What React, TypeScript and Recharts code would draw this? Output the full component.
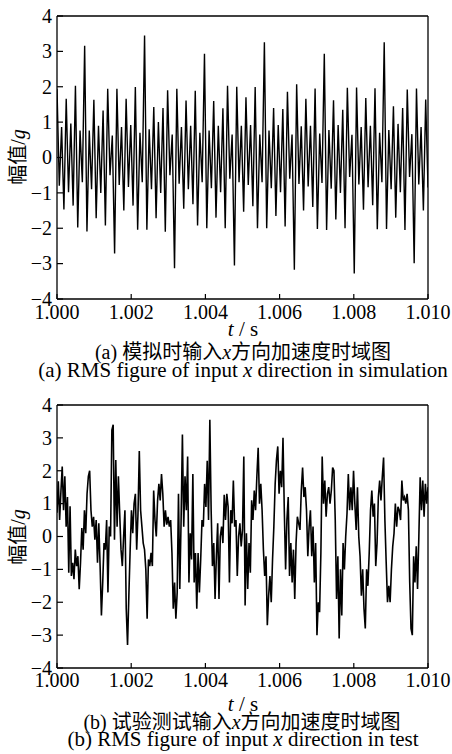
import { LineChart, Line, XAxis, YAxis, ReferenceLine } from "recharts";

const timeTicks = [1.0, 1.002, 1.004, 1.006, 1.008, 1.01];
const ampTicks = [-4, -3, -2, -1, 0, 1, 2, 3, 4];

// (a) simulation: alternating peaks / troughs, in g
const simAmp = [
  1.94, -0.8, 0.86, -1.47, 1.66, -0.98, 0.96, -1.36, 2.03, -1.98, 0.76, -0.7,
  3.16, -2.09, 0.76, -0.9, 1.63, -1.72, 0.9, -1.0, 1.33, -1.92, 1.94, -0.5, 0.62,
  -2.71, 1.94, -0.78, 0.86, -1.5, 1.66, -0.83, 0.92, -1.36, 1.99, -2.04, 0.7, -0.7,
  3.45, -2.04, 0.8, -0.9, 1.43, -1.72, 1.0, -1.0, 1.4, -2.1, 1.9, -0.5, 0.65,
  -3.13, 1.94, -0.74, 0.86, -1.45, 1.61, -0.9, 0.9, -1.32, 1.89, -1.92, 0.7, -0.7,
  2.93, -2.0, 0.76, -0.87, 1.6, -1.7, 0.9, -0.98, 1.39, -2.0, 2.03, -0.6, 0.65,
  -3.05, 2.0, -0.7, 0.9, -1.53, 1.7, -0.78, 0.92, -1.38, 1.99, -2.0, 0.65, -0.7,
  3.26, -2.0, 0.76, -0.87, 1.4, -1.65, 0.92, -0.98, 1.37, -1.95, 1.86, -0.6, 0.65,
  -3.17, 2.07, -0.75, 0.88, -1.5, 1.66, -0.82, 0.9, -1.4, 1.95, -2.02, 0.68, -0.72,
  2.93, -2.05, 0.78, -0.88, 1.62, -1.75, 0.92, -1.0, 1.35, -2.0, 1.97, -0.55, 0.64,
  -3.28, 1.98, -0.76, 0.86, -1.48, 1.68, -0.84, 0.9, -1.35, 1.96, -2.03, 0.7, -0.7,
  3.26, -2.02, 0.78, -0.9, 1.45, -1.7, 0.95, -0.98, 1.4, -2.05, 1.92, -0.55, 0.66,
  -2.99, 1.95, -0.76, 0.86, -1.5, 1.64, -0.85,
];

// (b) test measurement, in g
const testAmp = [
  0.72, 1.68, 0.5, 1.37, 2.13, 0.8, 1.83, 0.3, 1.2, -1.1,
  0.92, -1.2, -0.8, -1.3, -0.4, -0.9, -0.6, -1.6, -0.8, 0.26,
  -0.4, 0.8, 0.1, 1.3, 1.83, 2.0, 0.8, 0.3, 0.6, -0.1,
  0.5, -0.8, 0.4, -0.9, -2.4, -1.4, -0.2, -0.4, 0.5, -1.7,
  0.3, 0, 3.24, 3.4, -0.1, 2.33, 0.3, 1.83, 0.7, -0.4,
  -0.9, 0, 0.8, -2.2, -3.3, -1.8, -0.4, 0.8, 0.1, 1.0,
  1.3, -0.4, 0.7, 2.6, 0.8, 0.3, -0.2, -0.4, -1.0, -2.5,
  -0.7, -0.9, -0.5, -0.9, 1.4, 0.5, 0, 1.1, 1.6, 1.1,
  1.9, 1.3, 0.3, 0.8, 0.36, 0.6, 0.3, 0.5, -0.5, -2.2,
  -1.4, -2.5,
  -1.7, 1.3, -1.6, 0.5, 3.1, 0.3, 1.83, 0.8, 2.43, -1.4,
  0.1, -0.7, 1.9, -1.4, -0.5, -2.2, -0.5, -1.7, -0.7, 0.5,
  0.3, 1.6, 0.9, 2.3, 0.5, 3.55, 0.8, -0.9, -0.2, -1.9,
  -0.6, 0.4, -1.9, 0, 0.3, -0.2, 1.27, 0.5, 1.3, 0.9,
  -1.4, 0.8, 0.4, 1.7, 0.3, 0.5, -1.2, 0, 0.4, -0.3,
  0.2, 2.43, -2.1, 0.1, -1.6, -0.2, -1.1, 1.1, 0.5, 1.4,
  0.8, 1.83, 2.7, 1.0, 1.6, 0.8, -0.4, -1.2, -0.6, -2.7,
  -1.8, -1.2, -2.0, -0.7, 0.3, 1.6, 2.33, 2.74, 1.3, 2.0,
  1.5, 3.0, 0.8, -1.0, 0.5, 1.2, -1.2, -0.2, -1.4, -0.4,
  -1.9, -0.2, 0.6, 0.4,
  0.2, 1.4, 2.1, 1.2, 1.5, 0.8, -0.6, 0.3, 0.8, -0.6,
  0.3, -1.4, -0.2, -3.0, -2.0, -2.3, -0.5, 2.43, 1.0, 1.7,
  0.6, 1.3, 1.5, 1.0, 1.4, 2.1, 2.0, 0.5, -1.9, -0.6,
  -3.1, -1.0, -2.4, -0.2, -1.0, 0, 0.7, 1.9, 0.8, 1.5,
  0.8, 2.0, 1.0, 0.2, 1.5, 0, -0.6, -1.8, -1.0, -2.2,
  -2.8, -1.0, -1.5, -0.5, 0.8, 1.4, 0.6, 1.0, -0.9, -0.2,
  1.2, 1.7, 1.1, 1.8, 2.4, 0.5, -0.8, -2.0, -1.5, -2.0,
  -1.0, -0.3, 0.1, 1.0, 0.3, 0.9, 0.8, 0.5, 1.7, 1.1,
  1.2, 1.0, 1.3, 0.8, -1.4, -2.8, -3.0, -0.6, -1.4, -0.3,
  -1.6, 0, 1.8, 0.8, 1.7, 0.6, 1.6, 1.0, 1.5,
];

const T0 = 1.0;
const SPAN = 0.01;

// samples are evenly spaced over the 10 ms window
const toRows = (amp: number[]) =>
  amp.map((g, i) => ({ t: T0 + (SPAN * i) / (amp.length - 1), g }));

const serif = '"Liberation Serif", "Times New Roman", serif';
const cjk = '"Liberation Serif", "Noto Sans CJK SC", sans-serif';

const TimeTick = (props: any) => {
  const { x, y, payload } = props;
  return (
    <text x={x} y={y} dy="0.71em" textAnchor="middle" fontFamily={serif} fontSize={20} fill="#000">
      {Number(payload.value).toFixed(3)}
    </text>
  );
};

const AmpTick = (props: any) => {
  const { x, y, payload } = props;
  return (
    <text x={x} y={y} dy="0.34em" textAnchor="end" fontFamily={serif} fontSize={20} fill="#000">
      {String(payload.value).replace("-", "\u2212")}
    </text>
  );
};

type PanelProps = {
  rows: { t: number; g: number }[];
  top: number;
  height: number;
  labelGap: number;
  width: number;
};

// plot box: x 57..428, 16px below the panel top, bottom 12px + axis above chart bottom
const Panel = ({ rows, top, height, labelGap, width }: PanelProps) => (
  <div style={{ position: "absolute", left: 0, top }}>
    <LineChart
      width={452}
      height={height}
      data={rows}
      margin={{ top: 16, right: 24, bottom: 12, left: 0 }}
    >
      <XAxis
        dataKey="t"
        type="number"
        domain={[1.0, 1.01]}
        allowDataOverflow
        ticks={timeTicks}
        interval={0}
        height={21}
        tickSize={-5}
        tickMargin={labelGap}
        axisLine={{ stroke: "#000", strokeWidth: 1.3 }}
        tickLine={{ stroke: "#000", strokeWidth: 1.2 }}
        tick={<TimeTick />}
      />
      <YAxis
        type="number"
        domain={[-4, 4]}
        allowDataOverflow
        ticks={ampTicks}
        interval={0}
        width={57}
        tickSize={-6}
        tickMargin={11}
        axisLine={{ stroke: "#000", strokeWidth: 1.3 }}
        tickLine={{ stroke: "#000", strokeWidth: 1.2 }}
        tick={<AmpTick />}
      />
      <ReferenceLine y={4} stroke="#000" strokeWidth={1.3} />
      <ReferenceLine x={1.01} stroke="#000" strokeWidth={1.3} />
      <Line
        type="linear"
        dataKey="g"
        stroke="#000"
        strokeWidth={width}
        dot={false}
        isAnimationActive={false}
      />
    </LineChart>
  </div>
);

const Captions = () => (
  <svg
    width={452}
    height={754}
    style={{ position: "absolute", left: 0, top: 0, pointerEvents: "none" }}
  >
    <g fontFamily={serif} fontSize={21} fill="#000" textAnchor="middle">
      <text x={243} y={336}>
        <tspan fontStyle="italic">t</tspan> / s
      </text>
      <text x={243} y={711}>
        <tspan fontStyle="italic">t</tspan> / s
      </text>
      <text x={243} y={377}>
        (a) RMS figure of input <tspan fontStyle="italic">x</tspan> direction in simulation
      </text>
      <text x={243} y={746}>
        (b) RMS figure of input <tspan fontStyle="italic">x</tspan> direction in test
      </text>
    </g>
    <g fontFamily={cjk} fontSize={20} fill="#000" textAnchor="middle">
      <text x={243} y={359}>
        (a) 模拟时输入<tspan fontStyle="italic" fontFamily={serif}>x</tspan>方向加速度时域图
      </text>
      <text x={242} y={729}>
        (b) 试验测试输入<tspan fontStyle="italic" fontFamily={serif}>x</tspan>方向加速度时域图
      </text>
      <text x={0} y={0} transform="translate(25 157) rotate(-90)">
        幅值/<tspan fontStyle="italic" fontFamily={serif}>g</tspan>
      </text>
      <text x={0} y={0} transform="translate(25 537) rotate(-90)">
        幅值/<tspan fontStyle="italic" fontFamily={serif}>g</tspan>
      </text>
    </g>
  </svg>
);

export default function App() {
  return (
    <div
      style={{
        position: "absolute",
        left: 0,
        top: 0,
        width: 452,
        height: 754,
        background: "#fff",
      }}
    >
      <Panel rows={toRows(simAmp)} top={0} height={332} labelGap={11} width={1.4} />
      <Panel rows={toRows(testAmp)} top={389} height={312} labelGap={10} width={1.6} />
      <Captions />
    </div>
  );
}
